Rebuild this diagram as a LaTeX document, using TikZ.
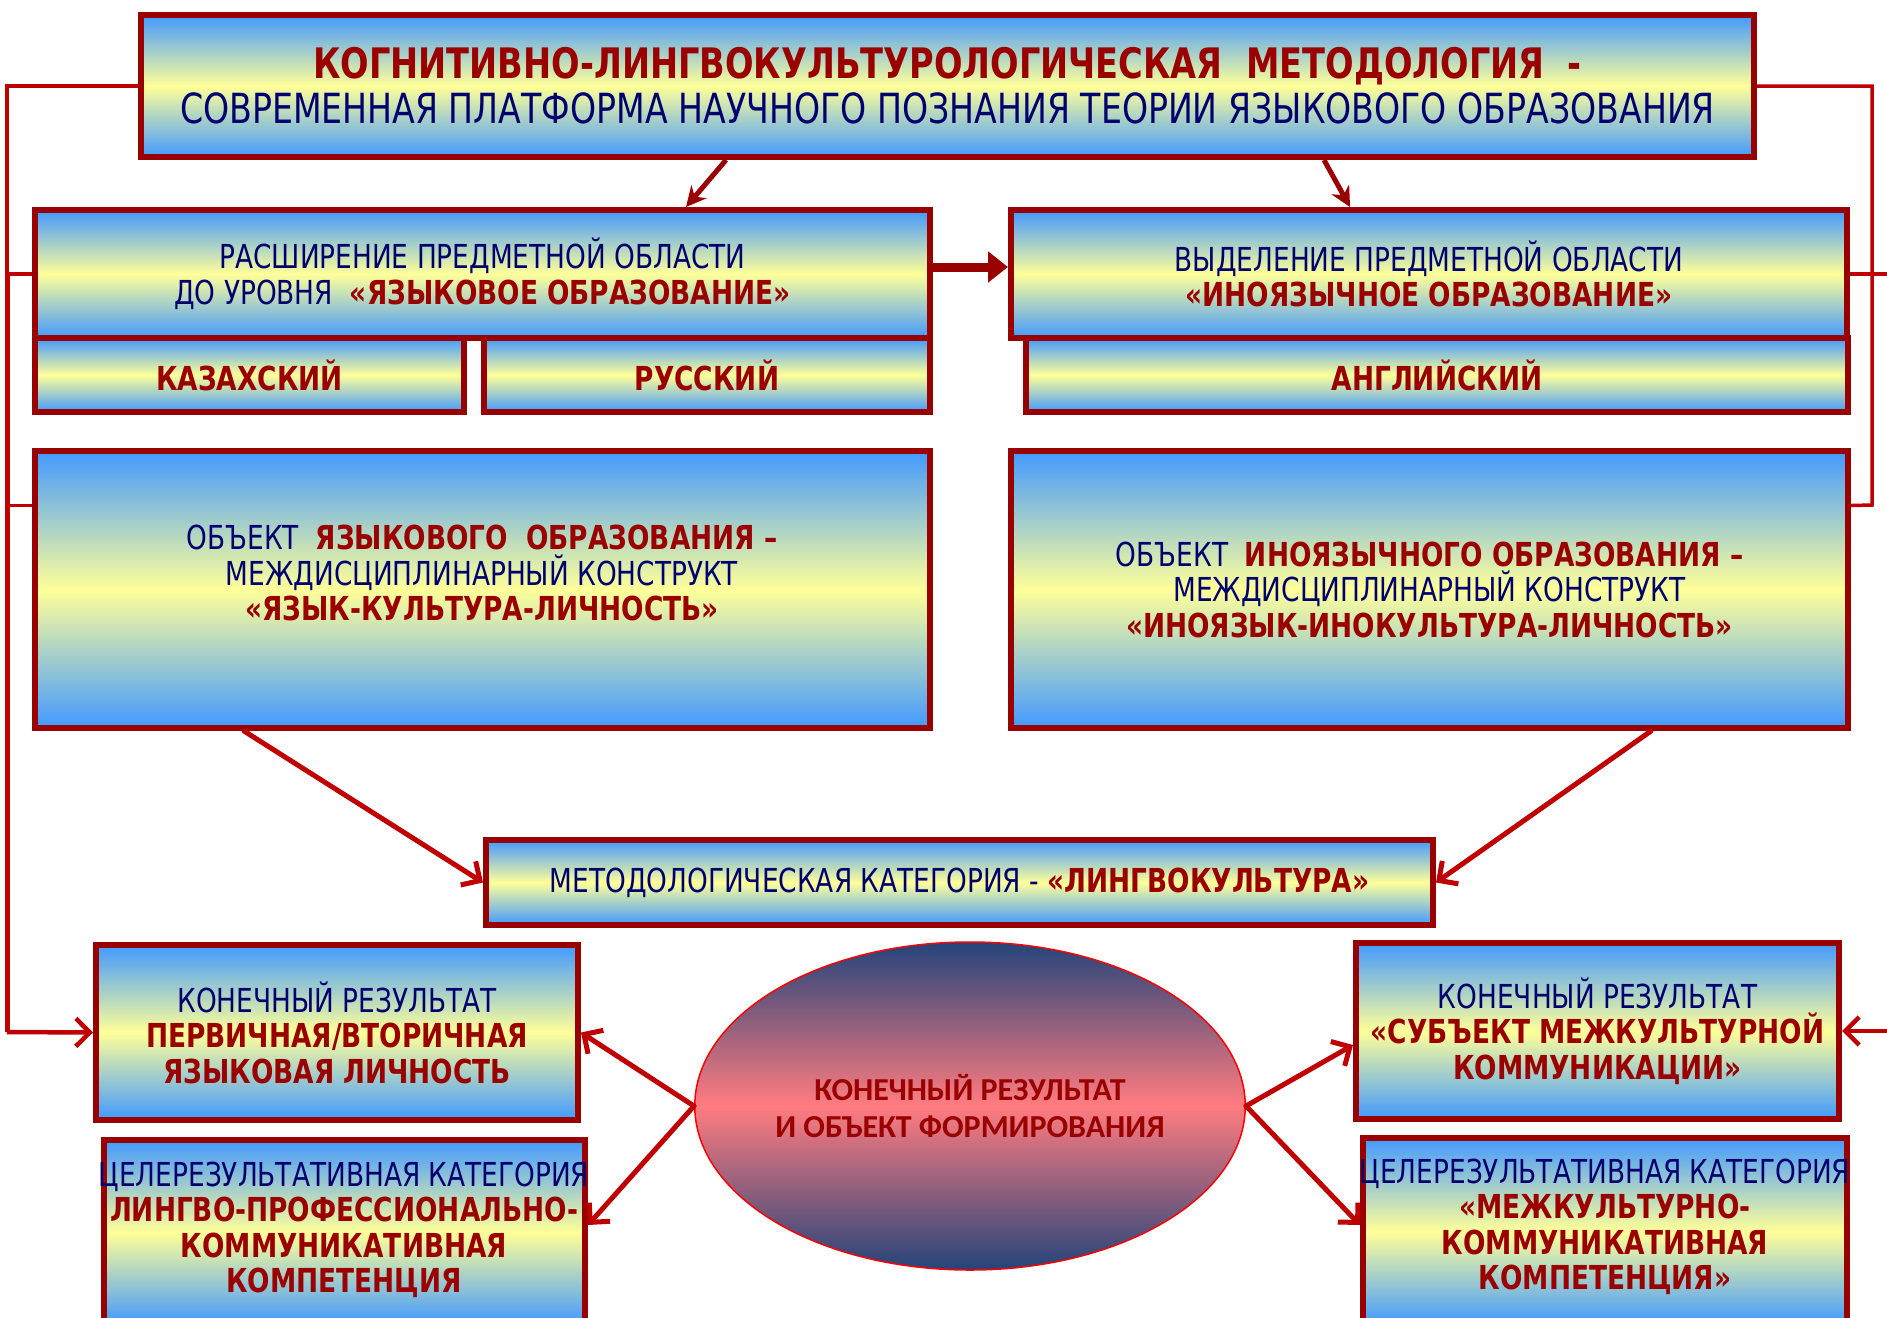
\documentclass[tikz,border=0pt]{standalone}
\usepackage{fontspec}
\setmainfont{DejaVu Sans}[FakeStretch=0.8]
\newfontfamily\ellfont{Carlito}
\usetikzlibrary{arrows.meta,shapes.geometric}
\definecolor{bord}{RGB}{153,0,0}
\definecolor{lnred}{RGB}{192,0,0}
\definecolor{navy}{RGB}{0,0,110}
\definecolor{dred}{RGB}{155,0,0}
\definecolor{gblue}{RGB}{66,153,255}
\definecolor{gyel}{RGB}{255,255,153}
\definecolor{enavy}{RGB}{36,68,122}
\definecolor{epink}{RGB}{255,124,128}
\newcommand{\rd}[1]{{\bfseries\color{dred}#1}}
\begin{document}
\begin{tikzpicture}[x=1pt,y=-1pt,
  gbox/.style={rectangle, draw=bord, line width=6pt, top color=gblue, bottom color=gblue, middle color=gyel,
    inner sep=0pt, anchor=north west, align=center, text=navy, font=\fontsize{33}{35.5}\selectfont},
  txt/.style={inner sep=0pt, align=center, text=navy, font=\fontsize{33}{35.5}\selectfont},
  ell/.style={ellipse, draw=red, line width=1.5pt, top color=enavy, bottom color=enavy, middle color=epink,
    inner sep=0pt, align=center, text=dred, font=\ellfont\bfseries\fontsize{32}{37.5}\selectfont},
  toparr/.style={draw=bord, line width=5pt, -{Stealth[length=20pt,width=20pt]}},
  bigarr/.style={draw=bord, line width=9pt, -{Triangle[length=20pt,width=30pt]}},
  rarr/.style={draw=lnred, line width=5pt, line cap=round, -{Straight Barb[length=14pt,width=28pt]}},
  fbl/.style={draw=lnred, line width=3.5pt},
  fbarr/.style={draw=lnred, line width=4.5pt, -{Straight Barb[length=14pt,width=28pt]}}
]
\useasboundingbox (0,0) rectangle (1887,1317);
\fill[white] (0,0) rectangle (1887,1317);

% boxes
\node[gbox, minimum width=1613pt, minimum height=142pt, font=\fontsize{42}{45}\selectfont] (top) at (138,12)
  {\rd{КОГНИТИВНО-ЛИНГВОКУЛЬТУРОЛОГИЧЕСКАЯ~~МЕТОДОЛОГИЯ~~-}\\{\fontsize{41.5}{45}\selectfont СОВРЕМЕННАЯ ПЛАТФОРМА НАУЧНОГО ПОЗНАНИЯ ТЕОРИИ ЯЗЫКОВОГО ОБРАЗОВАНИЯ}};
\node[gbox, minimum width=895pt, minimum height=128pt] (box2) at (32,207)
  {РАСШИРЕНИЕ ПРЕДМЕТНОЙ ОБЛАСТИ\\ДО УРОВНЯ~~\rd{«ЯЗЫКОВОЕ ОБРАЗОВАНИЕ»}};
\node[gbox, minimum width=836pt, minimum height=128pt] (box3) at (1008,207)
  {ВЫДЕЛЕНИЕ ПРЕДМЕТНОЙ ОБЛАСТИ\\\rd{«ИНОЯЗЫЧНОЕ ОБРАЗОВАНИЕ»}};
\node[gbox, minimum width=429pt, minimum height=74pt] (kaz) at (32,335) {\rd{КАЗАХСКИЙ}};
\node[gbox, minimum width=446pt, minimum height=74pt] (rus) at (481,335) {\rd{РУССКИЙ}};
\node[gbox, minimum width=822pt, minimum height=74pt] (eng) at (1023,335) {\rd{АНГЛИЙСКИЙ}};
\node[gbox, minimum width=895pt, minimum height=277pt] (objL) at (32,448) {};
\node[txt] (objLt) at (482,573)
  {ОБЪЕКТ~~\rd{ЯЗЫКОВОГО~~ОБРАЗОВАНИЯ –}\\МЕЖДИСЦИПЛИНАРНЫЙ КОНСТРУКТ\\\rd{«ЯЗЫК-КУЛЬТУРА-ЛИЧНОСТЬ»}};
\node[gbox, minimum width=837pt, minimum height=277pt] (objR) at (1008,448)
  {ОБЪЕКТ~~\rd{ИНОЯЗЫЧНОГО ОБРАЗОВАНИЯ –}\\МЕЖДИСЦИПЛИНАРНЫЙ КОНСТРУКТ\\\rd{«ИНОЯЗЫК-ИНОКУЛЬТУРА-ЛИЧНОСТЬ»}};
\node[gbox, minimum width=947pt, minimum height=85pt] (meth) at (483,837)
  {МЕТОДОЛОГИЧЕСКАЯ КАТЕГОРИЯ - \rd{«ЛИНГВОКУЛЬТУРА»}};
\node[gbox, minimum width=482pt, minimum height=175pt] (L1) at (93,942)
  {КОНЕЧНЫЙ РЕЗУЛЬТАТ\\\rd{ПЕРВИЧНАЯ/ВТОРИЧНАЯ}\\\rd{ЯЗЫКОВАЯ ЛИЧНОСТЬ}};
\node[gbox, minimum width=481pt, minimum height=185pt] (L2) at (101,1137) {};
\node[txt] (L2t) at (344,1230)
  {ЦЕЛЕРЕЗУЛЬТАТИВНАЯ КАТЕГОРИЯ\\\rd{ЛИНГВО-ПРОФЕССИОНАЛЬНО-}\\\rd{КОММУНИКАТИВНАЯ}\\\rd{КОМПЕТЕНЦИЯ}};
\node[gbox, minimum width=483pt, minimum height=176pt] (R1) at (1353,940)
  {КОНЕЧНЫЙ РЕЗУЛЬТАТ\\\rd{«СУБЪЕКТ МЕЖКУЛЬТУРНОЙ}\\\rd{КОММУНИКАЦИИ»}};
\node[gbox, minimum width=484pt, minimum height=187pt] (R2) at (1360,1135) {};
\node[txt] (R2t) at (1605,1227)
  {ЦЕЛЕРЕЗУЛЬТАТИВНАЯ КАТЕГОРИЯ\\\rd{«МЕЖКУЛЬТУРНО-}\\\rd{КОММУНИКАТИВНАЯ}\\\rd{КОМПЕТЕНЦИЯ»}};
\node[ell, minimum width=550pt, minimum height=328pt] (oval) at (970,1106)
  {КОНЕЧНЫЙ РЕЗУЛЬТАТ\\И ОБЪЕКТ ФОРМИРОВАНИЯ};

% feedback lines
\coordinate (LT) at (7,86);
\coordinate (LB) at (7,1032);
\coordinate (RT) at (1872,86);
\coordinate (RB) at (1872,505);
\coordinate (REdge) at (1887,274);
\coordinate (REdgeB) at (1887,1031);
\draw[fbl] (top.west) -- (LT) -- (7,274);
\draw[fbl, line width=5pt] (7,274) -- (LB);
\draw[fbarr] (LB) -- (L1.west);
\draw[fbl] (box2.west) -- (box2.west -| LT);
\draw[fbl] ([yshift=84pt]objL.west) -- ([yshift=84pt]objL.west -| LT);
\draw[fbl] (top.east) -- (RT) -- (RB) -- ([yshift=84pt]objR.east);
\draw[fbl] (box3.east) -- (REdge);
\draw[fbarr] (REdgeB) -- (R1.east);

% arrows
\draw[toparr] ([xshift=588pt]top.south west) -- ([xshift=654pt]box2.north west);
\draw[toparr] ([xshift=1186pt]top.south west) -- ([xshift=342pt]box3.north west);
\draw[bigarr] ([yshift=7pt]box2.east) -- ([yshift=7pt]box3.west);
\draw[rarr] ([xshift=212pt]objL.south west) -- (meth.west);
\draw[rarr] ([xshift=643pt]objR.south west) -- (meth.east);
\draw[rarr] (oval.west) -- (L1.east);
\draw[rarr] (oval.west) -- ([yshift=-88pt]L2.north east);
\draw[rarr] (oval.east) -- ([yshift=-14pt]R1.west);
\draw[rarr] (oval.east) -- ([yshift=-90pt]R2.north west);
\end{tikzpicture}
\end{document}
